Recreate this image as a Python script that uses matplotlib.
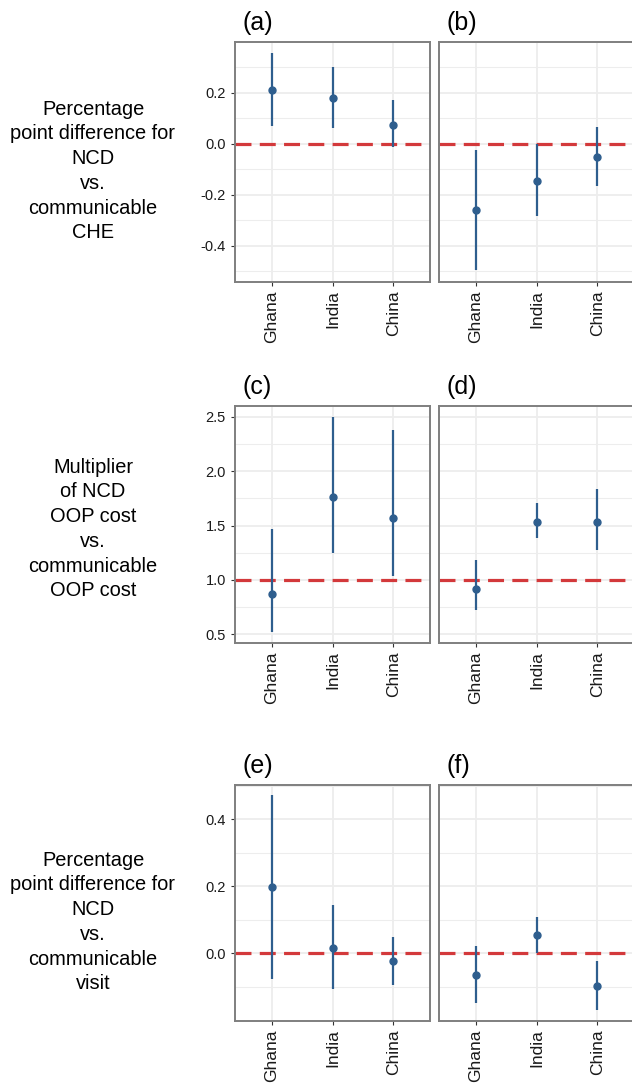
import matplotlib
matplotlib.use("Agg")
import matplotlib.pyplot as plt
import numpy as np

plt.rcParams["font.family"] = ["Liberation Sans", "DejaVu Sans"]

countries = ["Ghana", "India", "China"]

# panel (a)/(b): percentage point difference, CHE
a_est = [0.21, 0.18, 0.075]
a_lo = [0.068, 0.06, -0.012]
a_hi = [0.355, 0.30, 0.17]
b_est = [-0.258, -0.146, -0.053]
b_lo = [-0.493, -0.285, -0.167]
b_hi = [-0.024, 0.0, 0.065]

# panel (c)/(d): multiplier of OOP cost
c_est = [0.87, 1.76, 1.57]
c_lo = [0.525, 1.245, 1.035]
c_hi = [1.465, 2.50, 2.38]
d_est = [0.92, 1.537, 1.53]
d_lo = [0.72, 1.385, 1.278]
d_hi = [1.185, 1.71, 1.833]

# panel (e)/(f): percentage point difference, visit
e_est = [0.198, 0.016, -0.024]
e_lo = [-0.076, -0.107, -0.094]
e_hi = [0.472, 0.144, 0.049]
f_est = [-0.065, 0.055, -0.097]
f_lo = [-0.148, 0.0, -0.169]
f_hi = [0.021, 0.108, -0.024]

row_labels = [
    "Percentage\npoint difference for\nNCD\nvs.\ncommunicable\nCHE",
    "Multiplier\nof NCD\nOOP cost\nvs.\ncommunicable\nOOP cost",
    "Percentage\npoint difference for\nNCD\nvs.\ncommunicable\nvisit",
]
ref_lines = [0.0, 1.0, 0.0]
ylims = [(-0.542, 0.399), (0.42, 2.60), (-0.202, 0.502)]
major_ticks = [[-0.4, -0.2, 0.0, 0.2], [0.5, 1.0, 1.5, 2.0, 2.5], [0.0, 0.2, 0.4]]
minor_ticks = [[-0.5, -0.3, -0.1, 0.1, 0.3], [0.75, 1.25, 1.75, 2.25],
               [-0.1, 0.1, 0.3, 0.5]]

panels = [
    [("(a)", a_est, a_lo, a_hi), ("(b)", b_est, b_lo, b_hi)],
    [("(c)", c_est, c_lo, c_hi), ("(d)", d_est, d_lo, d_hi)],
    [("(e)", e_est, e_lo, e_hi), ("(f)", f_est, f_lo, f_hi)],
]

W, H = 632, 1086
fig = plt.figure(figsize=(W / 100, H / 100), dpi=100)

# panel boxes in pixels: (top, bottom) per row, (left, right) per column
row_px = [(42, 282), (406, 643), (785, 1021)]
col_px = [(235, 430), (439, 634)]
label_y = [171, 529, 922]

blue = "#2E5E8E"
red = "#D3393B"
border = "#7F7F7F"
grid = "#EDEDED"

x = np.arange(len(countries))
for r in range(3):
    top, bot = row_px[r]
    for c in range(2):
        left, right = col_px[c]
        ax = fig.add_axes([left / W, 1 - bot / H, (right - left) / W, (bot - top) / H])
        title, est, lo, hi = panels[r][c]
        ax.set_xlim(-0.6, 2.6)
        ax.set_ylim(*ylims[r])
        ax.set_yticks(major_ticks[r])
        ax.set_yticks(minor_ticks[r], minor=True)
        ax.set_xticks(x)
        ax.set_xticklabels(countries, rotation=90)
        ax.grid(True, which="major", color=grid, lw=1.3, zorder=0)
        ax.grid(True, which="minor", axis="y", color=grid, lw=0.8, zorder=0)
        ax.set_axisbelow(True)
        ax.axhline(ref_lines[r], color=red, lw=2.3, dashes=(5, 2.6), zorder=2)
        ax.vlines(x, lo, hi, color=blue, lw=1.6, zorder=3)
        ax.plot(x, est, "o", color=blue, ms=5, zorder=4)
        for s in ax.spines.values():
            s.set_color(border)
            s.set_linewidth(1.4)
        ax.tick_params(axis="both", which="both", length=3, color="#333333",
                       labelsize=10.5, labelcolor="#1A1A1A")
        ax.tick_params(axis="x", labelsize=12.5, pad=3)
        ax.tick_params(axis="y", which="minor", length=0)
        if c == 0:
            ax.set_yticklabels([f"{v:.1f}" for v in major_ticks[r]])
        else:
            ax.tick_params(axis="y", which="major", length=0, labelleft=False)
        ax.text(0.04, 1.03, title, transform=ax.transAxes, fontsize=18,
                ha="left", va="bottom")
    fig.text(93 / W, 1 - label_y[r] / H, row_labels[r], ha="center",
             va="center", fontsize=14.4, linespacing=1.38)

fig.savefig("out.png", dpi=100)
